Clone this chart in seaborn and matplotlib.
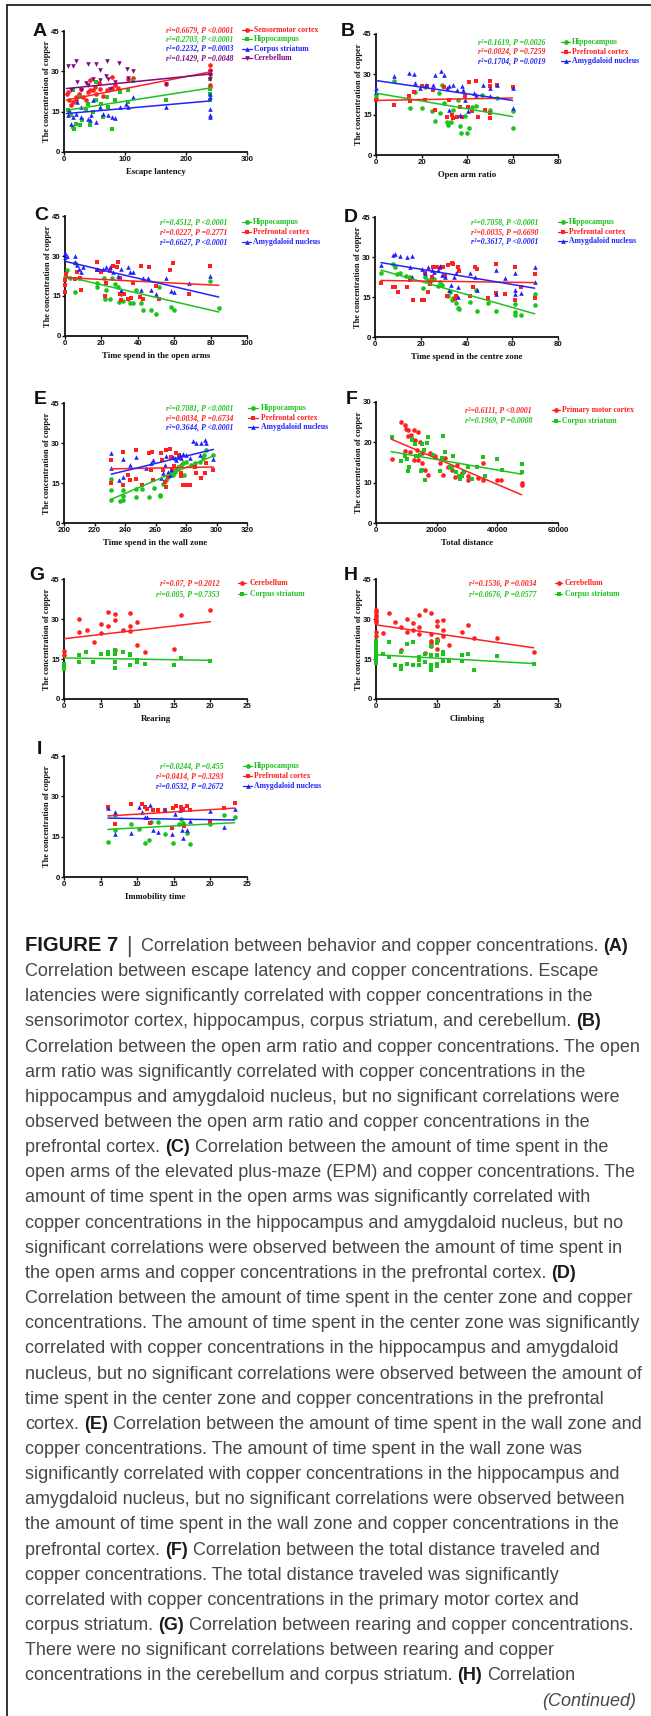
import re
import numpy as np
import pandas as pd
import matplotlib
matplotlib.use("Agg")
import matplotlib.pyplot as plt
from matplotlib.lines import Line2D
import seaborn as sns

# ---------------- DATA ----------------
# Panel A : escape latency
A_sens_x = [5, 6.6, 9, 12, 15, 20, 20, 25, 28.5, 31, 36.7, 39.5, 42, 42, 47.7, 50, 53, 57, 59, 64, 69.7, 78, 78, 83, 89, 105, 113, 168, 240, 240, 240, 240, 240]
A_sens_y = [21.5, 22.3, 19.2, 17.3, 18.6, 19.2, 20.4, 21.5, 23.5, 20.4, 19.2, 22.3, 22.9, 26.6, 23.1, 24.2, 21.7, 25.5, 23.5, 21, 22.9, 23.9, 28, 24.8, 23.9, 27.3, 27.6, 25.2, 32.2, 30.4, 24.8, 24.2, 29]
A_hipp_x = [6.6, 12, 15, 15, 17, 20, 26, 27, 29, 36.7, 39.5, 42, 47.7, 53, 53, 61.4, 64, 69.7, 72, 79.5, 83, 91.6, 105, 105, 113, 168, 240, 240, 240, 240]
A_hipp_y = [15.5, 13.6, 9.3, 22.9, 8.7, 10.5, 20.4, 9.9, 11.8, 15.5, 18, 9.9, 14.9, 19.2, 26, 18, 13, 20.4, 16.7, 8.4, 19.2, 22.3, 22.9, 18.6, 26.3, 19.5, 27.3, 23.5, 21.7, 19.2]
A_stri_x = [6.6, 9, 12, 15, 20, 21.4, 28.5, 28.5, 39.5, 42, 44.5, 47.7, 53, 59, 64, 72, 78, 83, 91.6, 102, 105, 113, 168, 240, 240, 240, 240, 240]
A_stri_y = [13.6, 15.5, 10.5, 13, 14.3, 18.6, 16.7, 13, 12.4, 11.8, 13.6, 19.2, 11.2, 16.7, 14.3, 13.6, 13, 12.8, 16.7, 18, 16.7, 20.4, 16.7, 20.4, 21.7, 16, 13.6, 13]
A_cere_x = [6.6, 12, 15, 20, 21.4, 28.5, 36.7, 39.5, 39.5, 47.7, 53, 59, 59, 68.6, 71, 72, 75, 83, 90.5, 104, 105, 113, 168, 240, 240, 240]
A_cere_y = [32, 22.9, 32, 33.9, 26, 22.9, 25.8, 32.8, 24.8, 27.3, 32.8, 30.4, 26.6, 28.1, 33.9, 27.3, 23.5, 26, 33.2, 30.7, 27.5, 30.1, 25.4, 27.3, 28.5, 29.8]
A_sens_fx, A_sens_fy = [4, 240], [19.3, 29.8]
A_hipp_fx, A_hipp_fy = [4, 240], [15.5, 23.8]
A_stri_fx, A_stri_fy = [4, 240], [14.3, 19.0]
A_cere_fx, A_cere_fy = [4, 240], [23.6, 29.0]

# Panel B : open arm ratio
B_hipp_x = [0, 0, 7.7, 15, 17, 20, 21.6, 24.5, 26, 27.5, 28, 29, 30, 31, 31.6, 33, 34, 36, 37, 37.4, 39, 40, 41, 42, 44, 46.4, 50, 53, 60, 60.3]
B_hipp_y = [22.4, 21.1, 27.4, 17.4, 23.6, 17.4, 25.2, 16.2, 12.8, 23, 15.8, 26.1, 19.3, 12.4, 11.2, 12.4, 16.8, 20.5, 10.6, 8.3, 14.6, 8.1, 10, 18, 18.3, 22.4, 16.8, 21.1, 16.2, 10]
B_pref_x = [0, 7.7, 14.3, 15, 16.5, 20, 21.6, 22.3, 25, 26, 30, 31, 32, 33.3, 34, 35.5, 37, 38, 39, 40.5, 41, 42, 44, 44.7, 48, 50, 50, 50, 50, 53, 60]
B_pref_y = [20.5, 18.7, 21.8, 19.9, 23.6, 25.5, 20.5, 25.7, 24.3, 16.8, 25.2, 14.3, 20.5, 14.9, 13.7, 14.3, 18, 14.3, 21.8, 18, 27, 16.2, 27.4, 14.3, 16.8, 27.4, 25.5, 13.7, 15.5, 26.1, 25.2]
B_amyg_x = [0, 0, 7.7, 14.6, 16.5, 17, 19.4, 21.9, 25, 26, 28.6, 30, 31, 32, 32.3, 34, 35.5, 37, 37.9, 38.4, 39, 40.5, 43.2, 44, 47.2, 50, 50, 53, 60, 60.3]
B_amyg_y = [24.9, 23.6, 29.5, 30.5, 30.2, 26.7, 24.9, 26.1, 26.1, 29.9, 31.1, 29.9, 24.9, 25.5, 16.8, 26.1, 24.3, 14.9, 25.5, 24.3, 20.5, 16.2, 23, 22.4, 26.1, 24.9, 21.8, 26.1, 25.1, 17.4]
B_hipp_fx, B_hipp_fy = [0, 60], [23.0, 14.3]
B_pref_fx, B_pref_fy = [0, 60], [20.3, 21.2]
B_amyg_fx, B_amyg_fy = [0, 60], [27.7, 20.3]

# Panel C : time in open arms
C_hipp_x = [0, 0.9, 2.7, 5.5, 5.5, 7.7, 17.4, 17.4, 21.6, 22, 22.5, 24.7, 25.6, 27.4, 29, 29.6, 30.5, 31.6, 34.4, 35.6, 37.5, 39, 42, 42.6, 47, 50, 51.7, 58.5, 59.8, 79.5, 84.6]
C_hipp_y = [22, 24.7, 21.6, 27.4, 16.5, 21.9, 19.9, 18.2, 21.9, 14, 17.4, 14, 21.9, 19.4, 18.4, 12.8, 15.9, 13.2, 14, 12.4, 12.4, 17.2, 12.2, 9.6, 9.9, 8.1, 18.2, 10.9, 9.6, 20.7, 10.5]
C_pref_x = [0, 0, 0, 0.4, 5.5, 6.8, 8.2, 9, 17.4, 17.4, 20, 22, 22.8, 24.7, 26.5, 28.3, 29, 30, 30, 31, 32.3, 34.7, 36.5, 37.5, 41, 42, 42.9, 46.4, 50, 51.5, 57.7, 59.4, 68.2, 79.5]
C_pref_y = [16.5, 19, 21, 23.4, 21.2, 24, 21.6, 17.2, 27.8, 24.9, 24, 14.9, 19.7, 24.5, 26.1, 25.8, 27.8, 15.9, 21.9, 13.4, 15.9, 14, 14.4, 19.9, 14.7, 26.4, 14, 25.7, 18.7, 14, 24.9, 27.4, 15.7, 26.4]
C_amyg_x = [0, 0, 0.9, 5.5, 5.5, 6.8, 7.9, 8.6, 10, 17.4, 21, 22.5, 24.7, 26.5, 29, 30.5, 31, 34.7, 35.6, 37.5, 42, 42.9, 45.7, 47, 50, 55.5, 58.5, 59.8, 68.2, 79.5]
C_amyg_y = [31, 29.7, 29.9, 29.9, 27.8, 26.6, 25.3, 24, 25.7, 25.3, 25.3, 25.7, 25.9, 24, 22.4, 25.3, 17.2, 25.7, 24, 24, 17.4, 21.9, 21.9, 17.4, 15.9, 21.9, 16.9, 16.5, 19.9, 22.4]
C_hipp_fx, C_hipp_fy = [0, 84.5], [22.4, 9.0]
C_pref_fx, C_pref_fy = [0, 84.5], [21.9, 19.0]
C_amyg_fx, C_amyg_fy = [0, 84.5], [28.0, 14.6]

# Panel D : time in centre zone
D_hipp_x = [2.6, 8, 8.7, 9.5, 10.9, 13.5, 15.3, 21, 21.8, 23.3, 24.7, 26, 27.6, 28.4, 29.4, 32, 32.7, 33.5, 34.2, 35.6, 36.4, 36.6, 41.5, 44, 44.4, 49.5, 53, 61, 61.4, 61.4, 64, 69.8, 69.8]
D_hipp_y = [23.9, 27.4, 26.1, 23.6, 23.9, 22.9, 22.4, 18.3, 22.4, 21.4, 21.4, 21.6, 19.2, 20.8, 19.5, 15.2, 17, 13.9, 14.6, 12.7, 10.8, 10.4, 13.3, 17.7, 9.8, 12.9, 9.8, 9.2, 12.3, 8.3, 8.3, 16.3, 12.1]
D_pref_x = [2.6, 8, 8.7, 10.2, 13.8, 15.3, 16.7, 20.4, 21.5, 21.8, 23.3, 24, 24.7, 25.5, 26.9, 28.4, 29.8, 30.5, 31.3, 31.7, 33.5, 34.2, 34.9, 35.3, 36.4, 36.6, 41.5, 43, 43.6, 44.8, 49.5, 53, 53, 56.7, 61.4, 61.4, 64, 69.8, 69.8]
D_pref_y = [20.1, 18.9, 18.9, 16.7, 18.9, 21.4, 13.9, 13.9, 13.9, 24.1, 17, 19.9, 22.6, 26.1, 26.1, 25.7, 26.4, 22.9, 15.4, 27, 27.9, 27.4, 14.1, 15.2, 26.1, 24.9, 15.2, 18.9, 26.1, 25.4, 14.6, 27.4, 16.4, 16.2, 26.1, 13.9, 18.7, 23.6, 14.6]
D_amyg_x = [2.6, 8, 8.7, 10.9, 13.8, 15.3, 16.3, 16.3, 20.4, 21.8, 23.3, 24.7, 26, 27.6, 28.4, 29.1, 30.8, 32.3, 33.2, 34.6, 35.6, 36.1, 36.4, 41.5, 43.6, 44.4, 53, 53, 56.7, 61.4, 61.4, 61.4, 64, 69.8, 69.8]
D_amyg_y = [27, 30.7, 31.3, 30.3, 30.1, 26.4, 30.3, 22.4, 25.4, 23.9, 26.1, 25.1, 24.5, 25.1, 26.6, 23.3, 22.4, 17.7, 19.5, 22.4, 24.1, 18.9, 14.9, 23.9, 22.4, 17.7, 16.2, 25.1, 22, 24.1, 17.7, 16.2, 16.4, 26.1, 20.8]
D_hipp_fx, D_hipp_fy = [2.6, 69.8], [25.1, 8.7]
D_pref_fx, D_pref_fy = [2.6, 69.8], [21.2, 20.4]
D_amyg_fx, D_amyg_fy = [2.6, 69.8], [27.9, 18.3]

# Panel E : time in wall zone
E_hipp_x = [231, 231, 231, 236.5, 238.7, 239, 239, 247.4, 247.4, 251.4, 255.7, 258.8, 262.7, 263.2, 264.9, 267, 268.2, 271.5, 272.6, 273.7, 274.8, 277, 278, 279, 280, 283.5, 285.7, 289, 291, 292, 293.3, 297.7]
E_hipp_y = [8.7, 12.4, 16.4, 8.3, 8.7, 10, 12.4, 9.7, 12.7, 12.7, 9.7, 13.1, 10.6, 10.2, 14.7, 16.2, 17.2, 18, 19.3, 20.1, 21.1, 21.8, 22.4, 18, 23, 21.8, 22.4, 23, 24.3, 25.5, 27.4, 25.5]
E_pref_x = [231, 231, 238.7, 239, 241.7, 243.5, 247.4, 247.4, 251.4, 256, 257.2, 257.8, 258.4, 263.8, 264.5, 264.9, 266, 266.7, 267, 268.2, 269.3, 270.4, 271, 272, 273.7, 275.4, 277, 277, 278, 279.8, 282.4, 285.7, 286.8, 289.6, 292.2, 293.3, 297.7]
E_pref_y = [23.6, 14.9, 26.7, 14.3, 18, 16.2, 27.4, 16.4, 14.3, 26.1, 19.9, 26.7, 16.2, 26.1, 23.6, 19.9, 15.5, 13.4, 27.4, 17.4, 27.6, 24.9, 19.9, 21.4, 26.1, 25.5, 18.9, 17.7, 14.3, 14.3, 14.3, 20.9, 18.7, 16.9, 18.7, 22.6, 19.9]
E_amyg_x = [231, 231, 236, 239, 239, 243, 247.4, 254, 257.2, 258.4, 263.8, 264.9, 266, 267, 268.2, 269.3, 270.4, 271.5, 272.6, 273.7, 274.8, 276, 277, 278, 279.8, 282.4, 284.6, 286.8, 289, 290, 292.2, 293.3, 297.7]
E_amyg_y = [26.1, 20.5, 16.2, 23.9, 17.2, 21.8, 24.9, 20.5, 22.4, 23.6, 16.8, 18.7, 21.8, 25.1, 19.3, 18, 19.9, 24.6, 24.3, 23.6, 24.9, 25.5, 24.3, 25.8, 25.5, 24.3, 30.9, 30.1, 25.5, 30.1, 31.1, 29.9, 23.9]
E_hipp_fx, E_hipp_fy = [231, 298], [8.9, 25.2]
E_pref_fx, E_pref_fy = [231, 298], [20.3, 21.0]
E_amyg_fx, E_amyg_fy = [231, 298], [18.3, 27.6]

# Panel F : total distance
F_motor_x = [5300, 8300, 9400, 9600, 9900, 10700, 10700, 11300, 11600, 12400, 12400, 12900, 13500, 14000, 14000, 14600, 15100, 15100, 16200, 17300, 17900, 19500, 21100, 22200, 22800, 23900, 25000, 26000, 26600, 28200, 30400, 30400, 33700, 35400, 35400, 40000, 41200, 48000, 48000]
F_motor_y = [15.9, 25, 24.4, 17.8, 23.3, 23, 21.5, 17.5, 21.9, 23, 15.7, 20.7, 18, 22.5, 15.5, 20, 17.4, 15, 13.2, 12, 17.4, 16.7, 14.9, 12, 16.1, 14, 13.2, 11.4, 14.5, 12.4, 11.7, 10.6, 11.2, 10.7, 15, 10.7, 10.7, 9.8, 9.3]
F_stri_x = [5300, 8300, 9600, 10200, 10500, 11000, 11800, 12000, 12900, 13100, 14000, 14600, 14900, 15100, 15300, 15700, 16200, 16800, 17300, 18900, 21100, 21700, 22200, 22600, 24400, 25000, 25500, 26300, 27200, 27700, 28200, 29100, 30400, 31500, 33200, 35400, 35900, 40000, 41400, 48000, 48000]
F_stri_y = [21.3, 15.3, 16.7, 15.9, 12.8, 13.9, 20.8, 20.7, 19.7, 16.7, 16.7, 16.9, 12.8, 19.7, 13.2, 18, 10.7, 19.8, 21.2, 16.9, 12.8, 16.1, 21.5, 17.5, 14, 13.6, 16.5, 12.6, 11.6, 10.9, 11.7, 12.6, 13.9, 10.9, 14, 16.4, 11.7, 15.9, 13.2, 14.7, 12.6]
F_motor_fx, F_motor_fy = [5000, 48000], [20.8, 7.0]
F_stri_fx, F_stri_fy = [5000, 48000], [17.7, 12.1]

# Panel G : rearing
G_cere_x = [0, 0, 2, 2, 3.1, 4.1, 5, 5, 6, 6, 7, 7, 7, 8, 9, 9, 9, 10, 10, 11, 15, 16, 20]
G_cere_y = [18, 16.4, 30, 25.3, 25.7, 21.3, 28.1, 24.8, 32.6, 27.3, 31.7, 29.7, 18.5, 25.7, 32.2, 27.4, 25.4, 29, 20.4, 17.8, 18.7, 31.6, 33.5]
G_stri_x = [0, 0, 0, 2, 2, 3, 4, 5, 6, 6, 7, 7, 7, 7, 8, 9, 9, 9, 10, 10, 11, 15, 16, 20]
G_stri_y = [13, 12, 11.4, 16.4, 13.9, 17.6, 14, 16.7, 17.6, 16.7, 18.2, 17, 13.9, 11.8, 17.6, 17, 16.4, 12.6, 14.5, 13.8, 13.3, 12.6, 15.2, 14.1]
G_cere_fx, G_cere_fy = [0, 20], [22.6, 29.0]
G_stri_fx, G_stri_fy = [0, 20], [15.4, 14.5]

# Panel H : climbing
H_cere_x = [0, 0, 0, 0, 0, 0, 0, 0, 1.1, 2.1, 3.1, 4.1, 4.1, 5.1, 5.1, 6.1, 6.1, 7.1, 7.1, 7.1, 8.1, 8.1, 9, 9, 9, 9, 9, 10, 10, 10, 10, 10, 11.1, 11.1, 11.1, 12, 14.1, 15.1, 16.1, 20, 26]
H_cere_y = [33.3, 32.5, 31.6, 30.6, 29.6, 28.7, 25, 23.8, 24.8, 32.2, 29, 27.1, 18.5, 30, 25, 28.4, 25.9, 31.6, 26.9, 24.2, 33.5, 17.2, 32.2, 24.4, 21.9, 20.9, 19.7, 29.4, 27.5, 22.6, 21.9, 18.8, 29.7, 25.7, 23.8, 20.4, 25.3, 27.9, 22.8, 22.8, 17.8]
H_stri_x = [0, 0, 0, 0, 0, 0, 0, 0, 1.1, 2.1, 2.1, 3.1, 4.1, 4.1, 4.1, 5.1, 5.1, 6.1, 6.1, 7.1, 7.1, 7.1, 8.1, 8.1, 9, 9, 9, 9, 9, 10, 10, 10, 10, 10, 11.1, 11.1, 11.1, 12, 14.1, 14.1, 15.1, 16.1, 20, 26]
H_stri_y = [21.9, 20.7, 19.7, 18.5, 17.2, 16, 14.7, 13.5, 16.7, 21.3, 15.7, 12.6, 17.6, 12.3, 11.4, 20.7, 13.3, 21.3, 12.6, 15.7, 14.7, 12.6, 17, 13.9, 19.7, 16.4, 12.6, 11.4, 10.8, 21.9, 20.9, 16.4, 13.3, 12.3, 17.6, 16.7, 14.1, 14.3, 16.4, 14.3, 16.7, 10.8, 16.1, 13.3]
H_cere_fx, H_cere_fy = [0, 26], [27.8, 19.2]
H_stri_fx, H_stri_fy = [0, 26], [16.6, 13.3]

# Panel I : immobility time
I_hipp_x = [6, 6.9, 6.9, 9.1, 10.3, 11, 11.6, 11.9, 12.9, 13.8, 14.9, 15.7, 16, 16.3, 16.8, 17.2, 20, 21.9, 23.3]
I_hipp_y = [13, 17.3, 22.9, 19.8, 18, 12.6, 13.9, 20.4, 20.4, 16.1, 12.6, 19.6, 21.7, 20.1, 16.4, 12.1, 19.8, 22.9, 22.3]
I_pref_x = [6, 6.9, 9.1, 10.7, 11.1, 11.3, 11.7, 12.2, 12.9, 13.8, 14.7, 14.9, 15.3, 16, 16.3, 16.4, 16.8, 17.2, 20, 21.9, 23.3]
I_pref_y = [26, 19.6, 27.3, 27.3, 26, 25.4, 20.2, 24.8, 24.8, 24.8, 18.3, 25.7, 26.3, 26, 25.4, 18.8, 26.3, 25, 20.4, 25.8, 27.5]
I_amyg_x = [6, 6.9, 6.9, 9.1, 10.3, 10.7, 11, 11.3, 11.8, 12.2, 12.9, 13.8, 14.7, 15.1, 15.8, 16.1, 16.3, 16.8, 17.2, 20, 21.9, 23.3]
I_amyg_y = [25.8, 24.2, 15.9, 16.4, 26, 24.2, 22.3, 22.5, 26.6, 17.3, 16.7, 24.8, 16.1, 23.5, 24.8, 17.3, 14.6, 17.3, 20.8, 24.5, 18.6, 25.4]
I_hipp_fx, I_hipp_fy = [6, 23.3], [17.7, 20.2]
I_pref_fx, I_pref_fy = [6, 23.3], [22.7, 25.6]
I_amyg_fx, I_amyg_fy = [6, 23.3], [21.9, 21.2]

# Legend texts
A_stats = ["r²=0.6679, P <0.0001", "r²=0.2703, P <0.0001", "r²=0.2232, P =0.0003", "r²=0.1429, P =0.0048"]
B_stats = ["r²=0.1619, P =0.0026", "r²=0.0024, P =0.7259", "r²=0.1704, P =0.0019"]
C_stats = ["r²=0.4512, P <0.0001", "r²=0.0227, P =0.2771", "r²=0.6627, P <0.0001"]
D_stats = ["r²=0.7058, P <0.0001", "r²=0.0035, P =0.6690", "r²=0.3617, P <0.0001"]
E_stats = ["r²=0.7081, P <0.0001", "r²=0.0034, P =0.6734", "r²=0.3644, P <0.0001"]
F_stats = ["r²=0.6111, P <0.0001", "r²=0.1969, P =0.0008"]
G_stats = ["r²=0.07, P =0.2012", "r²=0.005, P =0.7353"]
H_stats = ["r²=0.1536, P =0.0034", "r²=0.0676, P =0.0577"]
I_stats = ["r²=0.0244, P =0.455", "r²=0.0414, P =0.3293", "r²=0.0532, P =0.2672"]

caption_lines = [
    None,
    "Correlation between escape latency and copper concentrations. Escape",
    "latencies were significantly correlated with copper concentrations in the",
    "sensorimotor cortex, hippocampus, corpus striatum, and cerebellum. **(B)**",
    "Correlation between the open arm ratio and copper concentrations. The open",
    "arm ratio was significantly correlated with copper concentrations in the",
    "hippocampus and amygdaloid nucleus, but no significant correlations were",
    "observed between the open arm ratio and copper concentrations in the",
    "prefrontal cortex. **(C)** Correlation between the amount of time spent in the",
    "open arms of the elevated plus-maze (EPM) and copper concentrations. The",
    "amount of time spent in the open arms was significantly correlated with",
    "copper concentrations in the hippocampus and amygdaloid nucleus, but no",
    "significant correlations were observed between the amount of time spent in",
    "the open arms and copper concentrations in the prefrontal cortex. **(D)**",
    "Correlation between the amount of time spent in the center zone and copper",
    "concentrations. The amount of time spent in the center zone was significantly",
    "correlated with copper concentrations in the hippocampus and amygdaloid",
    "nucleus, but no significant correlations were observed between the amount of",
    "time spent in the center zone and copper concentrations in the prefrontal",
    "cortex. **(E)** Correlation between the amount of time spent in the wall zone and",
    "copper concentrations. The amount of time spent in the wall zone was",
    "significantly correlated with copper concentrations in the hippocampus and",
    "amygdaloid nucleus, but no significant correlations were observed between",
    "the amount of time spent in the wall zone and copper concentrations in the",
    "prefrontal cortex. **(F)** Correlation between the total distance traveled and",
    "copper concentrations. The total distance traveled was significantly",
    "correlated with copper concentrations in the primary motor cortex and",
    "corpus striatum. **(G)** Correlation between rearing and copper concentrations.",
    "There were no significant correlations between rearing and copper",
    "concentrations in the cerebellum and corpus striatum. **(H)** Correlation",
]

# ---------------- FIGURE ----------------
sns.set_style("ticks")
plt.rcParams["font.family"] = ["Liberation Sans", "DejaVu Sans"]
SERIF = "Liberation Serif"
SANS = "Liberation Sans"

W, H = 651, 1716
fig = plt.figure(figsize=(W / 100, H / 100), dpi=100)
fig.patch.set_facecolor("white")

RED, GREEN, BLUE, PURPLE = "#ff2020", "#1ec21e", "#2222ff", "#800a80"


def fx(x):
    return x / W


def fy(y):
    return 1 - y / H


def ser(x, y, fxs, fys, c, m):
    return dict(x=x, y=y, fx=fxs, fy=fys, c=c, m=m)


def panel(rect, xlim, ylim, xticks, yticks, xlabel, series, letter, lxy,
          stats, labels, xr, seg, xl, ys, fs=5.6):
    l, r, t, b = rect
    ax = fig.add_axes([fx(l), fy(b), (r - l) / W, (b - t) / H])
    for s in series:
        d = pd.DataFrame({"x": s["x"], "y": s["y"]})
        sns.scatterplot(data=d, x="x", y="y", ax=ax, color=s["c"], marker=s["m"],
                        s=11, linewidth=0, clip_on=False, zorder=3, legend=False)
    for s in series:
        f = pd.DataFrame({"x": s["fx"], "y": s["fy"]})
        sns.lineplot(data=f, x="x", y="y", ax=ax, color=s["c"], linewidth=1.1,
                     zorder=4, legend=False)
    ax.set_xlim(*xlim)
    ax.set_ylim(*ylim)
    ax.set_xticks(xticks)
    ax.set_yticks(yticks)
    ax.set_xticklabels([str(v) for v in xticks])
    ax.set_yticklabels([str(v) for v in yticks])
    sns.despine(ax=ax)
    for sp in ("left", "bottom"):
        ax.spines[sp].set_linewidth(1.3)
        ax.spines[sp].set_color("#111111")
    ax.tick_params(axis="both", direction="out", length=2.2, width=1.0, pad=0.8,
                   labelsize=5.6, color="#111111", labelcolor="#111111")
    for lab in ax.get_xticklabels() + ax.get_yticklabels():
        lab.set_fontweight("bold")
        lab.set_family(SANS)
    ax.set_xlabel(xlabel, family=SERIF, fontweight="bold", fontsize=6.3, color="#111111")
    ax.set_ylabel("The concentration of copper", family=SERIF, fontweight="bold",
                  fontsize=6.0, color="#111111")
    ax.xaxis.set_label_coords(0.5, -20.0 / (b - t))
    ax.xaxis.label.set_va("center")
    ax.yaxis.set_label_coords(-17.0 / (r - l), 0.5)
    ax.yaxis.label.set_va("center")
    ax.set_facecolor("none")
    fig.text(fx(lxy[0]), fy(lxy[1]), letter, ha="center", va="center", fontsize=14,
             fontweight="bold", family=SANS, color="#111111")
    for s, st, lab, y in zip(series, stats, labels, ys):
        fig.text(fx(xr), fy(y), st, ha="right", va="center", color=s["c"], fontsize=fs,
                 family=SERIF, style="italic", fontweight="bold")
        fig.add_artist(Line2D([fx(seg[0]), fx(seg[1])], [fy(y), fy(y)], color=s["c"], lw=0.9))
        fig.add_artist(Line2D([fx((seg[0] + seg[1]) / 2)], [fy(y)], color=s["c"],
                              marker=s["m"], ms=3.4, mew=0, lw=0))
        fig.text(fx(xl), fy(y), lab, ha="left", va="center", color=s["c"], fontsize=fs,
                 family=SERIF, fontweight="bold")
    return ax


Y45 = [0, 15, 30, 45]
three = ["Hippocampus", "Prefrontal cortex", "Amygdaloid nucleus"]

panel((64, 247, 31, 152), (0, 300), (0, 45), [0, 100, 200, 300], Y45, "Escape lantency",
      [ser(A_sens_x, A_sens_y, A_sens_fx, A_sens_fy, RED, "o"),
       ser(A_hipp_x, A_hipp_y, A_hipp_fx, A_hipp_fy, GREEN, "s"),
       ser(A_stri_x, A_stri_y, A_stri_fx, A_stri_fy, BLUE, "^"),
       ser(A_cere_x, A_cere_y, A_cere_fx, A_cere_fy, PURPLE, "v")],
      "A", (39.5, 31), A_stats,
      ["Sensormotor cortex", "Hippocampus", "Corpus striatum", "Cerebellum"],
      233, (242, 252), 254, [30, 39.3, 48.7, 58])

panel((376, 558, 34, 155), (0, 80), (0, 45), [0, 20, 40, 60, 80], Y45, "Open arm ratio",
      [ser(B_hipp_x, B_hipp_y, B_hipp_fx, B_hipp_fy, GREEN, "o"),
       ser(B_pref_x, B_pref_y, B_pref_fx, B_pref_fy, RED, "s"),
       ser(B_amyg_x, B_amyg_y, B_amyg_fx, B_amyg_fy, BLUE, "^")],
      "B", (348, 31.5), B_stats, three, 545, (561, 570), 572, [42.3, 51.7, 61])

panel((65, 247, 216, 336), (0, 100), (0, 45), [0, 20, 40, 60, 80, 100], Y45,
      "Time spend in the open arms",
      [ser(C_hipp_x, C_hipp_y, C_hipp_fx, C_hipp_fy, GREEN, "o"),
       ser(C_pref_x, C_pref_y, C_pref_fx, C_pref_fy, RED, "s"),
       ser(C_amyg_x, C_amyg_y, C_amyg_fx, C_amyg_fy, BLUE, "^")],
      "C", (41, 215), C_stats, three, 227, (242, 251), 253, [222, 232, 242])

panel((375, 558, 217, 337), (0, 80), (0, 45), [0, 20, 40, 60, 80], Y45,
      "Time spend in the centre zone",
      [ser(D_hipp_x, D_hipp_y, D_hipp_fx, D_hipp_fy, GREEN, "o"),
       ser(D_pref_x, D_pref_y, D_pref_fx, D_pref_fy, RED, "s"),
       ser(D_amyg_x, D_amyg_y, D_amyg_fx, D_amyg_fy, BLUE, "^")],
      "D", (351, 217), D_stats, three, 538, (558, 567), 569, [222, 232, 241])

panel((64, 247, 403, 523), (200, 320), (0, 45), [200, 220, 240, 260, 280, 300, 320], Y45,
      "Time spend in the wall zone",
      [ser(E_hipp_x, E_hipp_y, E_hipp_fx, E_hipp_fy, GREEN, "o"),
       ser(E_pref_x, E_pref_y, E_pref_fx, E_pref_fy, RED, "s"),
       ser(E_amyg_x, E_amyg_y, E_amyg_fx, E_amyg_fy, BLUE, "^")],
      "E", (40, 399), E_stats, three, 233, (248, 258), 261, [408, 418, 427])

panel((376, 558, 402, 523), (0, 60000), (0, 30), [0, 20000, 40000, 60000], [0, 10, 20, 30],
      "Total distance",
      [ser(F_motor_x, F_motor_y, F_motor_fx, F_motor_fy, RED, "o"),
       ser(F_stri_x, F_stri_y, F_stri_fx, F_stri_fy, GREEN, "s")],
      "F", (352, 399), F_stats, ["Primary motor cortex", "Corpus striatum"],
      532, (552, 560), 562, [410, 420.7])

panel((64, 247, 579, 699), (0, 25), (0, 45), [0, 5, 10, 15, 20, 25], Y45, "Rearing",
      [ser(G_cere_x, G_cere_y, G_cere_fx, G_cere_fy, RED, "o"),
       ser(G_stri_x, G_stri_y, G_stri_fx, G_stri_fy, GREEN, "s")],
      "G", (37, 576), G_stats, ["Cerebellum", "Corpus striatum"],
      220, (238, 246), 250, [583, 594])

panel((376, 558, 579, 699), (0, 30), (0, 45), [0, 10, 20, 30], Y45, "Climbing",
      [ser(H_cere_x, H_cere_y, H_cere_fx, H_cere_fy, RED, "o"),
       ser(H_stri_x, H_stri_y, H_stri_fx, H_stri_fy, GREEN, "s")],
      "H", (351, 576), H_stats, ["Cerebellum", "Corpus striatum"],
      536, (555, 562), 565, [583, 594])

panel((64, 247, 756, 877), (0, 25), (0, 45), [0, 5, 10, 15, 20, 25], Y45, "Immobility time",
      [ser(I_hipp_x, I_hipp_y, I_hipp_fx, I_hipp_fy, GREEN, "o"),
       ser(I_pref_x, I_pref_y, I_pref_fx, I_pref_fy, RED, "s"),
       ser(I_amyg_x, I_amyg_y, I_amyg_fx, I_amyg_fy, BLUE, "^")],
      "I", (39, 750), I_stats, three, 223, (243, 252), 254, [766, 776, 786])

# ---------------- FRAME ----------------
fig.add_artist(Line2D([fx(7), fx(7)], [0, fy(5)], color="#111111", lw=1.2))
fig.add_artist(Line2D([fx(7), 1], [fy(5), fy(5)], color="#111111", lw=1.2))

# ---------------- CAPTION ----------------
renderer = fig.canvas.get_renderer()
TXT = "#474747"
BOLD = "#1a1a1a"


def width(t):
    return t.get_window_extent(renderer=renderer).width


probe = fig.text(0, 0, caption_lines[4], fontsize=12, family=SANS)
cap_fs = 12 * 617.0 / width(probe)
probe.remove()
p1 = fig.text(0, 0, "x x", fontsize=cap_fs, family=SANS)
p2 = fig.text(0, 0, "xx", fontsize=cap_fs, family=SANS)
space_w = width(p1) - width(p2)
p1.remove()
p2.remove()

X0 = 25
BASE0 = 951
STEP = 25.15

# first line
x = X0
t = fig.text(fx(x), fy(BASE0), "FIGURE 7", fontsize=cap_fs * 1.12, fontweight="bold",
             family=SANS, color=BOLD, va="baseline")
x += width(t) + 8
t = fig.text(fx(x), fy(BASE0 + 1), "|", fontsize=cap_fs * 1.2, family=SANS, color=TXT,
             va="baseline")
x += width(t) + 9
t = fig.text(fx(x), fy(BASE0), "Correlation between behavior and copper concentrations.",
             fontsize=cap_fs, family=SANS, color=TXT, va="baseline")
x += width(t) + space_w
fig.text(fx(x), fy(BASE0), "(A)", fontsize=cap_fs, fontweight="bold", family=SANS,
         color=BOLD, va="baseline")

for i, line in enumerate(caption_lines):
    if line is None:
        continue
    base = BASE0 + i * STEP
    x = X0
    parts = re.split(r"\*\*", line)
    first = True
    for k, p in enumerate(parts):
        seg = p.strip()
        if not seg:
            continue
        if not first:
            x += space_w
        bold = (k % 2 == 1)
        t = fig.text(fx(x), fy(base), seg, fontsize=cap_fs,
                     fontweight="bold" if bold else "normal", family=SANS,
                     color=BOLD if bold else TXT, va="baseline")
        x += width(t)
        first = False

fig.text(fx(636), fy(BASE0 + 30 * STEP), "(Continued)", fontsize=cap_fs, style="italic",
         family=SANS, color=TXT, ha="right", va="baseline")

fig.savefig("out.png", dpi=100, facecolor="white")
